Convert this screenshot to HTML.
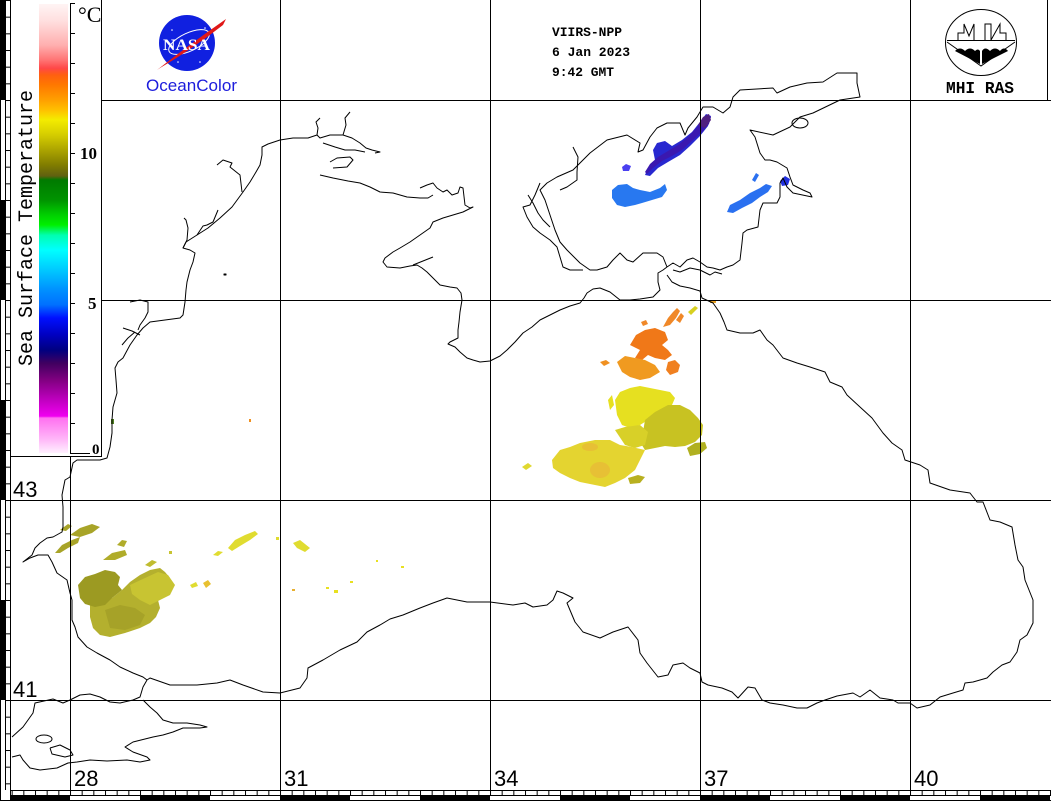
<!DOCTYPE html>
<html><head><meta charset="utf-8"><style>html,body{margin:0;padding:0;background:#fff;width:1051px;height:801px;overflow:hidden}</style></head>
<body>
<svg width="1051" height="801" viewBox="0 0 1051 801" xmlns="http://www.w3.org/2000/svg">
<defs>
<pattern id="lt" patternUnits="userSpaceOnUse" x="0" y="0" width="10" height="16.6667"><rect x="0" y="0" width="10" height="1" fill="#000"/></pattern>
<pattern id="bt" patternUnits="userSpaceOnUse" x="0" y="0" width="11.6667" height="10"><rect x="0" y="0" width="1" height="10" fill="#000"/></pattern>
<linearGradient id="cb" x1="0" y1="0" x2="0" y2="1">
<stop offset="0" stop-color="#fff4f4"/>
<stop offset="0.036" stop-color="#ffe0e0"/>
<stop offset="0.091" stop-color="#ffb0b0"/>
<stop offset="0.125" stop-color="#ff7474"/>
<stop offset="0.143" stop-color="#ff4848"/>
<stop offset="0.158" stop-color="#ff6010"/>
<stop offset="0.180" stop-color="#ff7800"/>
<stop offset="0.214" stop-color="#ffa000"/>
<stop offset="0.236" stop-color="#ffc000"/>
<stop offset="0.258" stop-color="#f4ec00"/>
<stop offset="0.292" stop-color="#d4cc00"/>
<stop offset="0.325" stop-color="#aca400"/>
<stop offset="0.359" stop-color="#807c00"/>
<stop offset="0.383" stop-color="#606010"/>
<stop offset="0.392" stop-color="#007a00"/>
<stop offset="0.437" stop-color="#009400"/>
<stop offset="0.470" stop-color="#00d000"/>
<stop offset="0.492" stop-color="#00f000"/>
<stop offset="0.515" stop-color="#00ffb0"/>
<stop offset="0.548" stop-color="#00ffff"/>
<stop offset="0.593" stop-color="#00c8ff"/>
<stop offset="0.637" stop-color="#0090ff"/>
<stop offset="0.670" stop-color="#0070ff"/>
<stop offset="0.699" stop-color="#0010ff"/>
<stop offset="0.737" stop-color="#0000c0"/>
<stop offset="0.771" stop-color="#000080"/>
<stop offset="0.800" stop-color="#400060"/>
<stop offset="0.837" stop-color="#800080"/>
<stop offset="0.882" stop-color="#c000c0"/>
<stop offset="0.918" stop-color="#f000f0"/>
<stop offset="0.922" stop-color="#ff70f0"/>
<stop offset="0.970" stop-color="#ffb8f8"/>
<stop offset="1" stop-color="#fff0ff"/>
</linearGradient>
</defs>

<rect x="0" y="0" width="1051" height="801" fill="#fff"/>

<!-- data blobs -->
<g stroke="none">
<!-- SW cluster -->
<path d="M90,605 L100,600 L112,598 L122,590 L130,582 L140,575 L150,570 L160,568 L165,572 L170,578 L162,585 L165,592 L158,600 L160,608 L156,617 L150,623 L140,628 L125,633 L110,637 L100,635 L93,628 L90,617 Z" fill="#b4b02e"/>
<path d="M78,585 L85,577 L95,574 L105,570 L115,572 L120,577 L118,585 L122,590 L112,598 L105,605 L95,607 L85,604 L80,598 Z" fill="#9c9a22"/>
<path d="M105,610 L120,605 L135,608 L145,615 L140,625 L125,630 L110,628 Z" fill="#a6a228"/>
<path d="M130,585 L145,578 L158,572 L168,575 L175,585 L170,595 L160,600 L150,605 L140,600 L132,594 Z" fill="#c8c432"/>
<path d="M55,553 L62,545 L72,540 L80,537 L78,543 L68,548 L60,553 Z" fill="#a8a428"/>
<path d="M70,535 L80,528 L92,524 L100,527 L92,533 L80,537 Z" fill="#a8a428"/>
<path d="M60,530 L68,524 L72,526 L66,531Z" fill="#a8a428"/>
<path d="M103,560 L112,553 L125,550 L127,555 L115,560 Z" fill="#b0ac2a"/>
<path d="M117,545 L122,540 L127,541 L124,547Z" fill="#b0ac2a"/>
<path d="M145,565 L152,560 L157,562 L150,567Z" fill="#c0bc30"/>
<path d="M228,548 L235,540 L245,535 L255,531 L258,534 L250,540 L240,546 L232,551 Z" fill="#e0dc30"/>
<path d="M213,555 L218,551 L223,552 L218,556Z" fill="#e0dc30"/>
<path d="M293,543 L300,540 L305,544 L310,548 L305,552 L297,548Z" fill="#e0dc30"/>
<path d="M203,583 L208,580 L211,584 L206,588Z" fill="#e8c030"/>
<path d="M190,585 L196,582 L198,586 L192,588Z" fill="#e0dc30"/>
<rect x="276" y="537" width="3" height="3" fill="#e0dc30"/>
<rect x="169" y="551" width="3" height="3" fill="#c8c432"/>
<rect x="292" y="589" width="3" height="2" fill="#e8b030"/>
<rect x="326" y="587" width="3" height="2" fill="#e8e020"/>
<rect x="334" y="590" width="4" height="3" fill="#e8e020"/>
<rect x="350" y="581" width="3" height="2" fill="#e8e020"/>
<rect x="401" y="566" width="3" height="2" fill="#e8e020"/>
<rect x="376" y="560" width="2" height="2" fill="#e8e020"/>
<rect x="249" y="419" width="2" height="3" fill="#f09020"/>
<rect x="111" y="419" width="3" height="5" fill="#508020"/>

<!-- Azov -->
<path d="M612,190 L618,185 L627,184 L633,188 L640,190 L650,192 L660,188 L665,184 L667,190 L662,197 L652,200 L642,203 L635,205 L625,207 L617,205 L612,198 Z" fill="#2878f0"/>
<path d="M645,175 L648,168 L655,160 L653,150 L657,143 L665,141 L672,146 L682,140 L692,132 L700,122 L706,114 L711,116 L708,126 L700,136 L690,146 L680,155 L668,162 L658,168 L650,176 Z" fill="#2828d0"/>
<path d="M645,172 L650,164 L658,157 L668,151 L678,145 L688,137 L697,127 L703,119 L708,114 L711,117 L709,124 L702,132 L692,141 L682,150 L672,156 L662,161 L653,168 L647,174 Z" fill="#3a18b0"/>
<path d="M698,125 L703,117 L709,114 L711,120 L705,128Z" fill="#502080"/>
<path d="M622,167 L626,164 L631,166 L629,171 L623,171Z" fill="#4a40f0"/>
<path d="M727,212 L730,205 L740,200 L750,193 L760,188 L766,184 L772,186 L768,192 L760,197 L752,203 L742,208 L733,213 Z" fill="#2a70f0"/>
<path d="M752,180 L756,173 L759,175 L755,182Z" fill="#2a70f0"/>
<path d="M780,181 L785,176 L790,179 L788,185 L782,186Z" fill="#2030e0"/>

<!-- orange -->
<path d="M630,345 L636,335 L645,330 L655,328 L665,332 L668,340 L662,345 L668,350 L672,355 L665,360 L655,358 L648,355 L642,360 L635,358 L640,350 Z" fill="#f07818"/>
<path d="M663,327 L668,318 L673,312 L677,308 L680,311 L676,318 L670,325 Z" fill="#f08828"/>
<path d="M676,320 L681,313 L684,316 L680,323Z" fill="#f08828"/>
<path d="M617,362 L625,356 L635,358 L645,360 L655,365 L660,372 L650,378 L640,380 L630,377 L622,372 Z" fill="#f09a20"/>
<path d="M668,362 L675,360 L680,365 L678,372 L670,375 L666,370Z" fill="#f08020"/>
<path d="M600,362 L606,360 L610,363 L604,366Z" fill="#f09020"/>
<path d="M641,322 L646,320 L648,324 L643,326Z" fill="#f08828"/>
<path d="M688,312 L695,306 L698,308 L691,315Z" fill="#d8d020"/>
<rect x="710" y="300" width="6" height="3" fill="#e8a020"/>

<!-- yellow -->
<path d="M615,400 L620,392 L630,388 L640,386 L650,388 L660,390 L670,392 L675,398 L672,405 L665,410 L655,415 L648,420 L640,425 L630,428 L622,425 L617,415 Z" fill="#e6e020"/>
<path d="M645,420 L655,412 L668,405 L680,405 L690,410 L698,418 L703,425 L702,435 L695,442 L685,446 L675,447 L665,446 L655,448 L645,450 L640,442 L643,432 Z" fill="#c8c222"/>
<path d="M615,430 L625,427 L640,425 L648,432 L645,445 L635,448 L625,445 Z" fill="#d8d028"/>
<path d="M552,460 L560,450 L570,447 L580,443 L595,440 L610,440 L620,445 L632,447 L645,450 L640,460 L635,470 L625,478 L615,483 L605,487 L595,485 L580,482 L570,478 L560,473 L553,468 Z" fill="#e4d430"/>
<ellipse cx="600" cy="470" rx="10" ry="8" fill="#e8b838" opacity="0.7"/>
<ellipse cx="590" cy="447" rx="8" ry="4" fill="#e8b838" opacity="0.7"/>
<path d="M687,448 L695,443 L705,442 L707,448 L700,454 L690,456 Z" fill="#b0b020"/>
<path d="M628,478 L638,475 L645,477 L640,483 L630,484 Z" fill="#b8b020"/>
<path d="M522,467 L528,463 L532,466 L526,470Z" fill="#e0d830"/>
<path d="M608,400 L612,395 L614,405 L610,410Z" fill="#e6e020"/>
</g>

<!-- coastline -->
<g fill="none" stroke="#000" stroke-width="1" stroke-linejoin="round">
<polyline points="147,680 143,677 133,673 120,667 110,660 97,653 87,647 78,637 75,627 72,620 72,600 70,593 67,580 57,573 52,562 48,555 38,555 30,558 23,562 32,555 35,548 40,543 47,538 53,537 62,532 63,527 63,507 62,495 65,480 70,477 73,463 77,460 100,460 107,458 110,447 112,433 112,420 113,407 117,393 116,380 115,368 118,362 123,358 130,345 137,335 143,328 150,322 165,320 180,318 183,315 185,302 186,290 187,282 190,270 193,262 195,253 190,250 183,248 186,242 197,235 208,228 220,218 232,207 243,192 250,182 256,172 260,165 262,155 262,147 268,144 280,140 293,138 308,138 317,135 320,138 330,135 343,135 352,138 360,143 366,148 372,150 380,152 375,153"/>
<polyline points="323,143 335,147 345,150 355,150 365,152"/>
<polyline points="317,135 318,128 316,122 320,118"/>
<polyline points="343,135 346,125 345,118 350,112"/>
<polyline points="183,248 187,240 188,228 186,220 184,218"/>
<polyline points="197,235 203,226 207,225 213,222 218,210"/>
<polyline points="217,165 223,160 232,163 230,167 240,175 242,192"/>
<polyline points="130,302 140,300 148,302 148,312 145,318 140,325 138,330"/>
<polyline points="123,328 132,331 140,335"/>
<polyline points="122,345 128,338 135,332"/>
<polyline points="320,175 333,178 348,181 360,183 370,187 380,192 393,193 407,197 420,198 428,198 433,195"/>
<polyline points="330,162 337,158 350,157 353,160 347,167 333,168"/>
<polyline points="420,188 427,185 433,183 437,188 443,192 447,190 452,195 458,193 460,187 463,188 465,205 470,208 473,207 463,212 453,215 443,218 433,222 430,228 420,235 410,242 400,248 393,252 385,258 383,262 387,267 400,268 410,266 417,265 422,268 427,272 433,278 440,285 450,287 457,288 461,293 462,300 460,312 459,322 458,330 458,338 450,342 448,344 455,347 460,352 467,358 473,360 480,362 490,361 500,356 507,350 515,342 523,333 532,327 540,320 550,315 560,310 570,306 580,303 584,298 587,293 593,289 600,288 610,292 620,300 630,300 640,299 653,297 660,290 658,282 658,273 663,270 667,267"/>
<polyline points="413,265 423,261 433,257"/>
<polyline points="667,275 672,282 680,286 690,288 700,291 702,298 713,303 720,313 724,322 727,330 740,333 753,333 760,330 767,340 773,345 783,358 797,363 810,367 825,372 830,382 842,387 847,395 860,407 872,418 883,433 892,443 902,450 905,460 920,465 928,470 930,483 950,490 970,493 977,502 983,502 990,520 1000,522 1012,527 1015,545 1018,560 1023,567 1025,580 1033,600 1033,623 1027,635 1020,640 1017,652 1010,662 1002,665 993,672 987,678 973,682 965,683 963,690 953,693 940,697 930,705 917,708 910,703 898,703 893,700 880,698 870,690 860,697 853,693 837,696 825,700 817,703 807,708 797,708 783,705 770,703 762,700 755,688 748,687 738,698 732,692 722,688 708,685 702,682 700,673 690,668 683,663 673,665 668,675 658,677 647,663 640,653 638,640 628,627 613,632 600,638 583,632 575,622 567,603 573,598 563,593 557,591 553,600 547,605 533,607 525,603 513,605 490,602 467,602 447,598 433,603 420,608 403,615 390,619 380,625 367,632 357,642 340,650 323,660 308,668 307,678 300,688 280,693 263,692 243,685 230,680 217,683 197,685 170,685 150,678 147,680"/>
<polyline points="667,267 663,257 657,253 643,253 633,262 627,260 620,253 613,260 607,267 597,270 590,270 580,263 575,258 567,250 560,242 555,230 550,215 545,200 540,190 547,183 557,177 573,170 580,163 590,153 607,140 627,135 640,143 638,152 643,150 650,137 657,128 667,123 680,123 685,135 688,128 697,117 703,107 713,107 723,113 730,107 733,97 740,90 773,88 777,93 790,87 807,83 823,82 837,73 857,73 857,83 860,97 840,100 813,113 800,117 790,127 773,135 750,130 755,137 760,153 765,160 770,160 777,162 787,168 790,177 793,185 803,190 810,193 812,197 793,193 787,187 783,178 780,183 780,197 777,203 763,203 760,210 758,227 747,230 743,233 742,243 740,260 733,265 727,267 720,270 713,268 707,267 700,262 693,258 687,260 680,267 673,263 667,267"/>
<polyline points="540,183 535,195 530,205 523,207 527,217 533,227 540,233 550,240 557,247 560,257 563,267 570,270 583,270"/>
<polyline points="573,147 578,157 577,172 577,180 567,187 560,190"/>
<polyline points="528,195 533,203 538,213 543,220 550,227"/>
<polyline points="673,270 680,272 690,268 700,270 710,275 715,272 722,274"/>
<ellipse cx="800" cy="123" rx="8" ry="5"/>
<polyline points="12,737 23,727 33,713 35,703 53,699 63,703 70,700 80,695 90,694 100,697 110,702 120,703 133,700 140,697 143,687 147,680"/>
<polyline points="143,700 150,707 157,713 163,720 173,723 187,723 200,725 207,727 200,728 183,728 173,732 163,735 153,737 133,742 125,747 133,752 147,757 150,760 140,762 127,760 107,761 90,760 77,762 68,763 57,768 40,770 30,768 23,760 20,755 12,757"/>
<ellipse cx="44" cy="739" rx="8" ry="4"/>
<polyline points="50,748 60,745 70,750 73,755 65,757 52,754 50,748"/>
<rect x="224" y="274" width="2" height="1" fill="#000"/>
</g>

<!-- grid -->
<g stroke="#000" stroke-width="1" shape-rendering="crispEdges" fill="none">
<line x1="70.5" y1="456" x2="70.5" y2="790"/>
<line x1="280.5" y1="0" x2="280.5" y2="790"/>
<line x1="490.5" y1="0" x2="490.5" y2="790"/>
<line x1="700.5" y1="0" x2="700.5" y2="790"/>
<line x1="910.5" y1="0" x2="910.5" y2="790"/>
<line x1="101" y1="100.5" x2="1051" y2="100.5"/>
<line x1="101" y1="300.5" x2="1051" y2="300.5"/>
<line x1="10" y1="500.5" x2="1051" y2="500.5"/>
<line x1="10" y1="700.5" x2="1051" y2="700.5"/>
<line x1="1047.5" y1="0" x2="1047.5" y2="100"/>
<line x1="101.5" y1="0" x2="101.5" y2="456"/>
<line x1="10" y1="456.5" x2="102" y2="456.5"/>
</g>

<!-- left scale -->
<g shape-rendering="crispEdges">
<rect x="0" y="0" width="5" height="100" fill="#000"/>
<rect x="0" y="200" width="5" height="100" fill="#000"/>
<rect x="0" y="400" width="5" height="100" fill="#000"/>
<rect x="0" y="600" width="5" height="100" fill="#000"/>
<line x1="0.5" y1="0" x2="0.5" y2="801" stroke="#000"/>
<line x1="5.5" y1="0" x2="5.5" y2="790" stroke="#000"/>
<rect x="5" y="0" width="5" height="790" fill="url(#lt)"/>
<line x1="10.5" y1="0" x2="10.5" y2="801" stroke="#000"/>
<line x1="10" y1="790.5" x2="1051" y2="790.5" stroke="#000"/>
<rect x="10" y="790" width="1041" height="5" fill="url(#bt)"/>
<line x1="10" y1="795.5" x2="1051" y2="795.5" stroke="#000"/>
<line x1="0" y1="800.5" x2="1051" y2="800.5" stroke="#000"/>
<rect x="10" y="795" width="60" height="6" fill="#000"/>
<rect x="140" y="795" width="70" height="6" fill="#000"/>
<rect x="280" y="795" width="70" height="6" fill="#000"/>
<rect x="420" y="795" width="70" height="6" fill="#000"/>
<rect x="560" y="795" width="70" height="6" fill="#000"/>
<rect x="700" y="795" width="70" height="6" fill="#000"/>
<rect x="840" y="795" width="70" height="6" fill="#000"/>
<rect x="980" y="795" width="70" height="6" fill="#000"/>
</g>

<!-- colorbar -->
<rect x="39" y="4" width="29" height="449" fill="url(#cb)"/>
<g stroke="#000" stroke-width="1" shape-rendering="crispEdges">
<line x1="70.5" y1="3" x2="70.5" y2="454"/>
<path d="M70,3.5h5M70,33.5h5M70,63.5h5M70,93.5h5M70,123.5h5M70,153.5h5M70,183.5h5M70,213.5h5M70,243.5h5M70,273.5h5M70,303.5h5M70,333.5h5M70,363.5h5M70,393.5h5M70,423.5h5M70,453.5h20"/>
</g>
<g font-family="'Liberation Serif', serif" fill="#000">
<text x="78" y="22" font-size="22">°C</text>
<text x="80" y="159" font-size="17" font-weight="bold">10</text>
<text x="88" y="309" font-size="17" font-weight="bold">5</text>
<text x="92" y="454" font-size="15" font-weight="bold">0</text>
</g>
<text transform="translate(32,228) rotate(-90)" text-anchor="middle" font-family="'Liberation Mono', monospace" font-size="20" fill="#000" textLength="276" lengthAdjust="spacingAndGlyphs">Sea Surface Temperature</text>

<g font-family="'Liberation Sans', sans-serif" font-size="22" fill="#000">
<text x="13" y="497">43</text>
<text x="13" y="697">41</text>
<text x="74" y="786">28</text>
<text x="284" y="786">31</text>
<text x="494" y="786">34</text>
<text x="704" y="786">37</text>
<text x="914" y="786">40</text>
</g>

<g font-family="'Liberation Mono', monospace" font-size="13" font-weight="bold" fill="#000">
<text x="552" y="36" textLength="70" lengthAdjust="spacingAndGlyphs">VIIRS-NPP</text>
<text x="552" y="56" textLength="78" lengthAdjust="spacingAndGlyphs">6 Jan 2023</text>
<text x="552" y="76" textLength="62" lengthAdjust="spacingAndGlyphs">9:42 GMT</text>
</g>

<!-- NASA logo -->
<circle cx="187" cy="43" r="28" fill="#1020e0"/>
<ellipse cx="189" cy="42" rx="22" ry="9" fill="none" stroke="#fff" stroke-width="1" transform="rotate(-25 189 42)"/>
<path d="M157,70 Q190,44 226,19 L223,25 Q191,50 160,68 Z" fill="#e01818"/>
<text x="163" y="50" font-family="'Liberation Serif', serif" font-size="16" font-weight="bold" fill="#fff" textLength="47" lengthAdjust="spacingAndGlyphs">NASA</text>
<circle cx="172" cy="30" r="0.8" fill="#fff"/><circle cx="200" cy="62" r="0.8" fill="#fff"/><circle cx="178" cy="62" r="0.8" fill="#fff"/><circle cx="205" cy="28" r="0.8" fill="#fff"/>
<text x="146" y="91" font-family="'Liberation Sans', sans-serif" font-size="17" fill="#1c1cdc" textLength="91" lengthAdjust="spacingAndGlyphs">OceanColor</text>

<!-- MHI logo -->
<ellipse cx="981" cy="42.5" rx="35.5" ry="33" fill="none" stroke="#000" stroke-width="1"/>
<g fill="none" stroke="#000" stroke-width="1">
<line x1="947" y1="40.5" x2="1015" y2="40.5"/>
<path d="M958,40 L958,33 L964,33 L964,24 L969,36 L974,24 L974,40 M985,40 L985,24 L991,24 L991,40 M991,40 L1000,24 L1000,33 L1006,33 L1006,40"/>
<path d="M947,42 L981,66 L1015,42"/>
</g>
<path d="M955,51 Q960,46 965,51 Q970,46 975,51 Q978,48 980,51 L980,64 Z" fill="#000"/>
<path d="M982,51 Q985,46 990,51 Q995,46 1000,51 Q1004,46 1008,51 L982,64 Z" fill="#000"/>
<text x="946" y="93" font-family="'Liberation Mono', monospace" font-size="17" font-weight="bold" fill="#000" textLength="68" lengthAdjust="spacingAndGlyphs">MHI RAS</text>
</svg>
</body></html>
